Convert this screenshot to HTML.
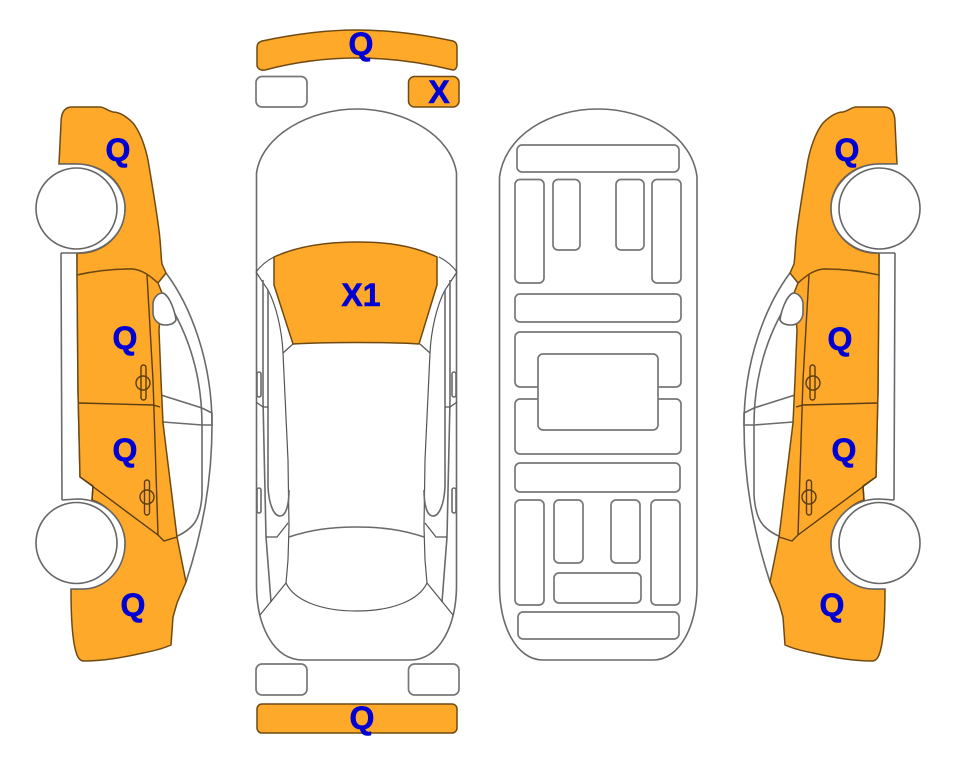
<!DOCTYPE html>
<html><head><meta charset="utf-8"><style>
html,body{margin:0;padding:0;background:#fff}
svg{display:block}
text{font-family:"Liberation Sans",sans-serif;font-weight:bold;fill:#0000d2;stroke:#0000d2;stroke-width:.6;font-size:32px;text-anchor:middle}
.l{fill:none;stroke:#6a6a6a;stroke-width:1.6}
.t{fill:none;stroke:#555;stroke-width:1.2}
.w{fill:#fff;stroke:#666;stroke-width:1.6}
.o{fill:#ffa92b;stroke:#6e4a12;stroke-width:1.5}
.b{fill:#fff;stroke:#777;stroke-width:1.7}
.d{fill:none;stroke:#5a3d12;stroke-width:1.4}
</style></head><body>
<svg width="963" height="768" viewBox="0 0 963 768" xmlns="http://www.w3.org/2000/svg">
<defs>
<g id="side">
  <path class="l" d="M166 273C190 305 212 360 212 425C212 480 203 530 186 582"/>
  <path class="l" d="M161 292C185 325 202 370 202 425L202 495C201 510 198 520 192 526C185 533 177 537 164 541"/>
  <path class="l" d="M161 395L202 408L212 413L212 425L202 425L163 422"/>
  <path class="l" d="M61 253L62 500M77 253L78 390L80 477"/>
  <path class="o" d="M59 164L61 123C61 112 65 107 72 107L100 107C104 107 108 111 113 112C120 112 127 117 133 123C140 132 145 146 148 160C153 190 159 225 160 240C161 250 161 258 162 264L166 273L158 283C150 276 143 270 132 269C112 269 95 271 77 275L77 253A45 45 0 0 0 125 208A48 44 0 0 0 77 164Z"/>
  <path class="o" d="M77 275C95 271 112 269 132 269C143 270 150 276 158 283L162 293L159 330L161 380L163 423L177 537L186 582L177 603L173 617L171 645C160 650 152 651 143 653C125 657 105 661 83 661C79 660 78 657 77 655C73 645 71 620 71 589L83 589A47 46 0 0 0 125 543C125 525 110 506 92 500L93 486L80 477L78 390Z"/>
  <path class="d" d="M147 275L153 380L158 535M79 403L153 405L160 407M80 477L158 535L164 541L177 537M93 486L92 500"/>
  <path class="w" d="M62 500L77 499C105 499 125 520 125 543C125 570 105 589 83 589L71 589"/>
  <path class="w" d="M59 164L77 164C103 164 125 185 125 208C125 235 103 253 77 253L61 253"/>
  <circle class="w" cx="76.500" cy="208.500" r="40.500"/>
  <circle class="w" cx="76.500" cy="543" r="40.500"/>
  <path class="w" d="M163 293C170 296 175 312 176 320C174 324 170 325 165 325C158 325 154 320 153 314L153 303C154 297 158 293 163 293Z"/>
  <rect class="d" x="141" y="365" width="5" height="35" rx="2.5"/>
  <ellipse class="d" cx="143" cy="383" rx="7" ry="7"/>
  <rect class="d" x="144.500" y="480" width="5" height="35" rx="2.500"/>
  <ellipse class="d" cx="147" cy="497" rx="7" ry="7"/>
</g>
<g id="half">
  <path class="t" d="M256 272C262 264 268 260 274 257"/>
  <path class="t" d="M256 272L268 290C276 305 282 330 283 353L288 460L289 527L288 560L286 583C294 600 320 611 356.500 611"/>
  <path class="t" d="M283 353L293 344"/>
  <path class="l" d="M263 280L263 400L266 537L271 602"/>
  <path class="l" d="M268 290L268 487C269 505 274 516 280 516C286 516 289 505 289 490"/>
  <path class="t" d="M256 402L263 407L268 407M266 537L277 537L288 523"/>
  <path class="t" d="M286 583L260 615"/>
  <rect class="l" x="257" y="372" width="4" height="25" rx="2"/>
  <rect class="l" x="257" y="488" width="4" height="25" rx="2"/>
  <path class="l" d="M289 537C310 530 330 527 356.500 527"/>
</g>
</defs>

<use href="#side"/>
<use href="#side" transform="translate(956,0) scale(-1,1)"/>

<path class="l" d="M256.500 587L256.500 173C262 135 310 109 357 109C404 109 451 135 456.500 173L456.500 587C456 625 440 660 410 660L303 660C273 660 257 625 256.500 587Z"/>
<use href="#half"/>
<use href="#half" transform="translate(713,0) scale(-1,1)"/>
<path class="o" d="M274 257C300 245 330 242 357 242C385 242 412 245 437 257L437 285L419 344C390 342 325 342 293 344L274 285Z"/>
<path class="o" d="M257 47C257 44 259 42 262 41C295 34 325 30 357 30C390 30 420 34 453 41C456 42 457 44 457 47L457 65C457 68 455 70 453 70C420 62 390 58 357 58C325 58 295 62 265 70C260 71 257 68 257 65Z"/>
<rect class="b" x="256" y="76.500" width="51" height="30.500" rx="6"/>
<rect class="b" x="256" y="664" width="51" height="31" rx="6"/>
<rect class="o" x="408.500" y="76.500" width="50.500" height="30.500" rx="6"/>
<rect class="b" x="408.500" y="664" width="50.500" height="31" rx="6"/>
<rect class="o" x="257" y="704" width="200" height="29" rx="5"/>

<path class="l" d="M499.500 587L499.500 177C505 135 550 109 598 109C645 109 692 135 697 177L697 587C697 625 680 660 653 660L543 660C516 660 499.500 625 499.500 587Z"/>
<rect class="b" x="517" y="145" width="162" height="27" rx="5"/>
<rect class="b" x="515" y="179.500" width="29" height="103.500" rx="5"/>
<rect class="b" x="553" y="179.500" width="27" height="70.500" rx="5"/>
<rect class="b" x="616" y="179.500" width="28" height="70.500" rx="5"/>
<rect class="b" x="652" y="179.500" width="29" height="103.500" rx="5"/>
<rect class="b" x="515" y="294" width="166" height="28" rx="5"/>
<rect class="b" x="515" y="332" width="166" height="55" rx="5"/>
<rect class="b" x="515" y="399" width="166" height="55" rx="5"/>
<rect class="b" x="538" y="354" width="120" height="76" rx="5"/>
<rect class="b" x="515" y="463" width="165" height="29" rx="5"/>
<rect class="b" x="515" y="500" width="29" height="105" rx="5"/>
<rect class="b" x="554" y="500" width="29" height="63" rx="5"/>
<rect class="b" x="611" y="500" width="29" height="63" rx="5"/>
<rect class="b" x="651" y="500" width="29" height="105" rx="5"/>
<rect class="b" x="554" y="573" width="87" height="30" rx="5"/>
<rect class="b" x="518" y="612" width="161" height="27" rx="5"/>

<text x="361" y="55">Q</text>
<text x="439" y="103">X</text>
<text x="361" y="306">X1</text>
<text x="362" y="729">Q</text>
<text x="118" y="161">Q</text>
<text x="125" y="349">Q</text>
<text x="125" y="461">Q</text>
<text x="133" y="616">Q</text>
<text x="847" y="161">Q</text>
<text x="840" y="350">Q</text>
<text x="844" y="461">Q</text>
<text x="832" y="616">Q</text>
</svg>
</body></html>
